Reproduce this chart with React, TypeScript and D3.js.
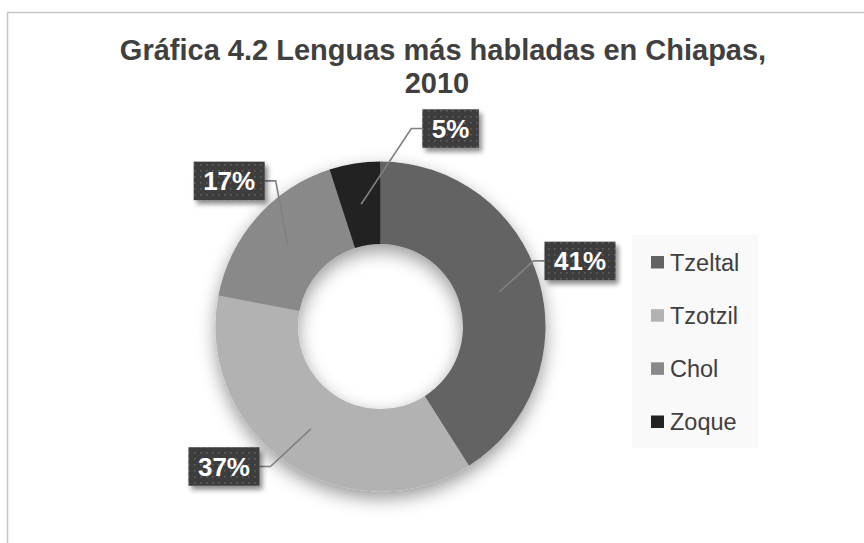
import React from "react";
import * as d3 from "d3";

const categories = ["Tzeltal", "Tzotzil", "Chol", "Zoque"];
const values = [41, 37, 17, 5];
const colors = ["#636363", "#b2b2b2", "#898989", "#222222"];
const titleLines = ["Gráfica 4.2 Lenguas más habladas en Chiapas,", "2010"];
// layout nudges (degrees) applied to data-label placement, like manual label drags
const labelNudges = [-2, 14, 2.5, 28.5];

const W = 864;
const H = 543;
const cx = 380.5;
const cy = 326.5;
const outerR = 165;
const innerR = 82.5;
const labelR = 210;
const font = "'Liberation Sans', Arial, Helvetica, sans-serif";

export default function App() {
  const pie = d3
    .pie<number>()
    .sort(null)
    .value((d) => d);
  const arcs = pie(values);
  const arc = d3
    .arc<d3.PieArcDatum<number>>()
    .innerRadius(innerR)
    .outerRadius(outerR);

  const polar = (r: number, a: number): [number, number] => [
    cx + r * Math.sin(a),
    cy - r * Math.cos(a),
  ];

  const legendY = d3
    .scalePoint<string>()
    .domain(categories)
    .range([262, 421.5]);

  const labels = arcs.map((a, i) => {
    const mid = (a.startAngle + a.endAngle) / 2;
    const la = mid + (labelNudges[i] * Math.PI) / 180;
    const [bx, by] = polar(labelR, la);
    const text = `${values[i]}%`;
    const digits = String(values[i]).length;
    const tw = (digits * 0.556 + 0.889) * 26;
    const bw = tw + 19;
    const bh = 38.5;
    const [sx, sy] = polar((innerR + outerR) / 2, mid);
    const right = bx > cx;
    const edgeX = right ? bx - bw / 2 : bx + bw / 2;
    const elbowX = right ? edgeX - 11 : edgeX + 11;
    return { bx, by, bw, bh, text, sx, sy, edgeX, elbowX };
  });

  return (
    <svg
      width={W}
      height={H}
      style={{ position: "absolute", left: 0, top: 0, background: "#fff" }}
    >
      <defs>
        <filter id="donutShadow" x="-40%" y="-40%" width="180%" height="180%">
          <feDropShadow dx="0" dy="7" stdDeviation="9" floodColor="#000" floodOpacity="0.4" />
        </filter>
        <filter id="boxShadow" x="-30%" y="-30%" width="160%" height="170%">
          <feDropShadow dx="3" dy="4" stdDeviation="2.5" floodColor="#000" floodOpacity="0.45" />
        </filter>
        <pattern id="dots" width="6" height="6" patternUnits="userSpaceOnUse">
          <rect width="6" height="6" fill="#3d3d3d" />
          <rect x="2" y="2" width="1.6" height="1.6" fill="#5f5f5f" />
        </pattern>
      </defs>

      <rect x={0} y={0} width={W} height={H} fill="#ffffff" />
      <path
        d={`M7.5,${H} V12.5 H${W}`}
        fill="none"
        stroke="#c6c6c6"
        strokeWidth={1.5}
      />

      {titleLines.map((t, i) => (
        <text
          key={i}
          x={i === 0 ? 443 : 437}
          y={60 + i * 33}
          textAnchor="middle"
          fontFamily={font}
          fontWeight="bold"
          fontSize={29}
          fill="#404040"
        >
          {t}
        </text>
      ))}

      <g filter="url(#donutShadow)">
        {arcs.map((a, i) => (
          <path
            key={i}
            d={arc(a) || ""}
            transform={`translate(${cx},${cy})`}
            fill={colors[i]}
          />
        ))}
      </g>

      {labels.map((l, i) => (
        <polyline
          key={"ln" + i}
          points={`${l.sx},${l.sy} ${l.elbowX},${l.by} ${l.edgeX},${l.by}`}
          fill="none"
          stroke="#808080"
          strokeWidth={1.6}
        />
      ))}

      {labels.map((l, i) => (
        <g key={"lb" + i}>
          <rect
            x={l.bx - l.bw / 2}
            y={l.by - l.bh / 2}
            width={l.bw}
            height={l.bh}
            fill="url(#dots)"
            filter="url(#boxShadow)"
          />
          <text
            x={l.bx}
            y={l.by + 9.3}
            textAnchor="middle"
            fontFamily={font}
            fontWeight="bold"
            fontSize={26}
            fill="#ffffff"
          >
            {l.text}
          </text>
        </g>
      ))}

      <rect x={632} y={235} width={126} height={213} fill="#f9f9f9" />
      {categories.map((c, i) => {
        const y = legendY(c) as number;
        return (
          <g key={c}>
            <rect x={651} y={y - 6} width={13} height={12.5} fill={colors[i]} />
            <text
              x={670}
              y={y + 8.5}
              fontFamily={font}
              fontSize={23.5}
              fill="#404040"
            >
              {c}
            </text>
          </g>
        );
      })}
    </svg>
  );
}
